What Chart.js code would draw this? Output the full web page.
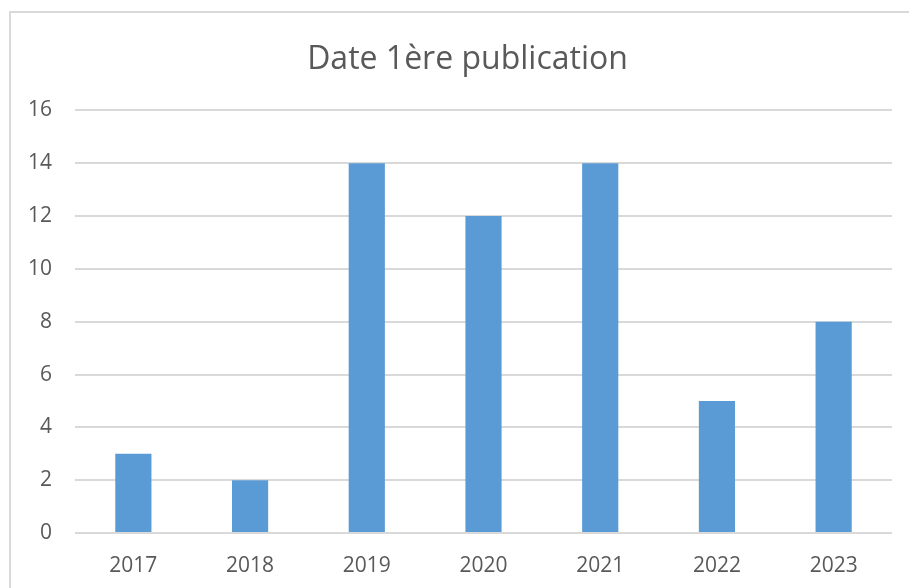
<!DOCTYPE html>
<html>
<head>
<meta charset="utf-8">
<script src="https://cdn.jsdelivr.net/npm/chart.js@4"></script>
<style>
    html, body { margin: 0; padding: 0; background: #fff; overflow: hidden; }
    #wrap { position: relative; width: 909px; height: 588px; }
    #frame { position: absolute; left: 9px; top: 11px; width: 1000px; height: 1000px; border: 2px solid #d9d9d9; box-sizing: border-box; }
    canvas { position: absolute; left: 0; top: 0; }
</style>
</head>
<body>
<div id="wrap">
    <div id="frame"></div>
    <canvas id="chart" width="909" height="588"></canvas>
</div>
<script>
// Données du graphique
const chartTitle = "Date 1ère publication";
const years = ["2017", "2018", "2019", "2020", "2021", "2022", "2023"];
const counts = [3, 2, 14, 12, 14, 5, 8];
const yTicks = [0, 2, 4, 6, 8, 10, 12, 14, 16];

const textColor = "#595959";
const gridColor = "#d9d9d9";
const barColor = "#5b9bd5";

// Le titre est centré sur le cadre complet (qui dépasse à droite), pas sur le canevas
const shiftTitle = {
    id: "shiftTitle",
    afterLayout(chart) {
        const tb = chart.titleBlock;
        if (tb) {
            tb.left = 43;
            tb.width = tb.right - tb.left;
        }
    }
};

document.addEventListener("DOMContentLoaded", () => {
    const ctx = document.getElementById("chart");
    new Chart(ctx, {
        type: "bar",
        data: {
            labels: years,
            datasets: [{
                label: chartTitle,
                data: counts,
                backgroundColor: barColor,
                borderWidth: 0,
                barPercentage: 0.31,
                categoryPercentage: 1
            }]
        },
        options: {
            responsive: false,
            animation: false,
            layout: { padding: { left: 0, right: 17, top: 0, bottom: 0 } },
            plugins: {
                legend: { display: false },
                tooltip: { enabled: false },
                title: {
                    display: true,
                    text: chartTitle,
                    color: textColor,
                    font: { family: "Open Sans", size: 32, weight: "normal" },
                    padding: { top: 41, bottom: 31 }
                }
            },
            scales: {
                x: {
                    grid: { display: false, drawTicks: false },
                    border: { display: false },
                    ticks: { color: textColor, font: { family: "Open Sans", size: 21 }, padding: 20, maxRotation: 0 },
                    afterFit: (scale) => { scale.height = 55; }
                },
                y: {
                    min: yTicks[0],
                    max: yTicks[yTicks.length - 1],
                    afterBuildTicks: (scale) => { scale.ticks = yTicks.map(v => ({ value: v })); },
                    grid: { color: gridColor, lineWidth: 2, drawTicks: false },
                    border: { display: false },
                    ticks: { color: textColor, font: { family: "Open Sans", size: 21 }, padding: 23 },
                    afterFit: (scale) => { scale.width = 75; }
                }
            }
        },
        plugins: [shiftTitle]
    });
});
</script>
</body>
</html>
